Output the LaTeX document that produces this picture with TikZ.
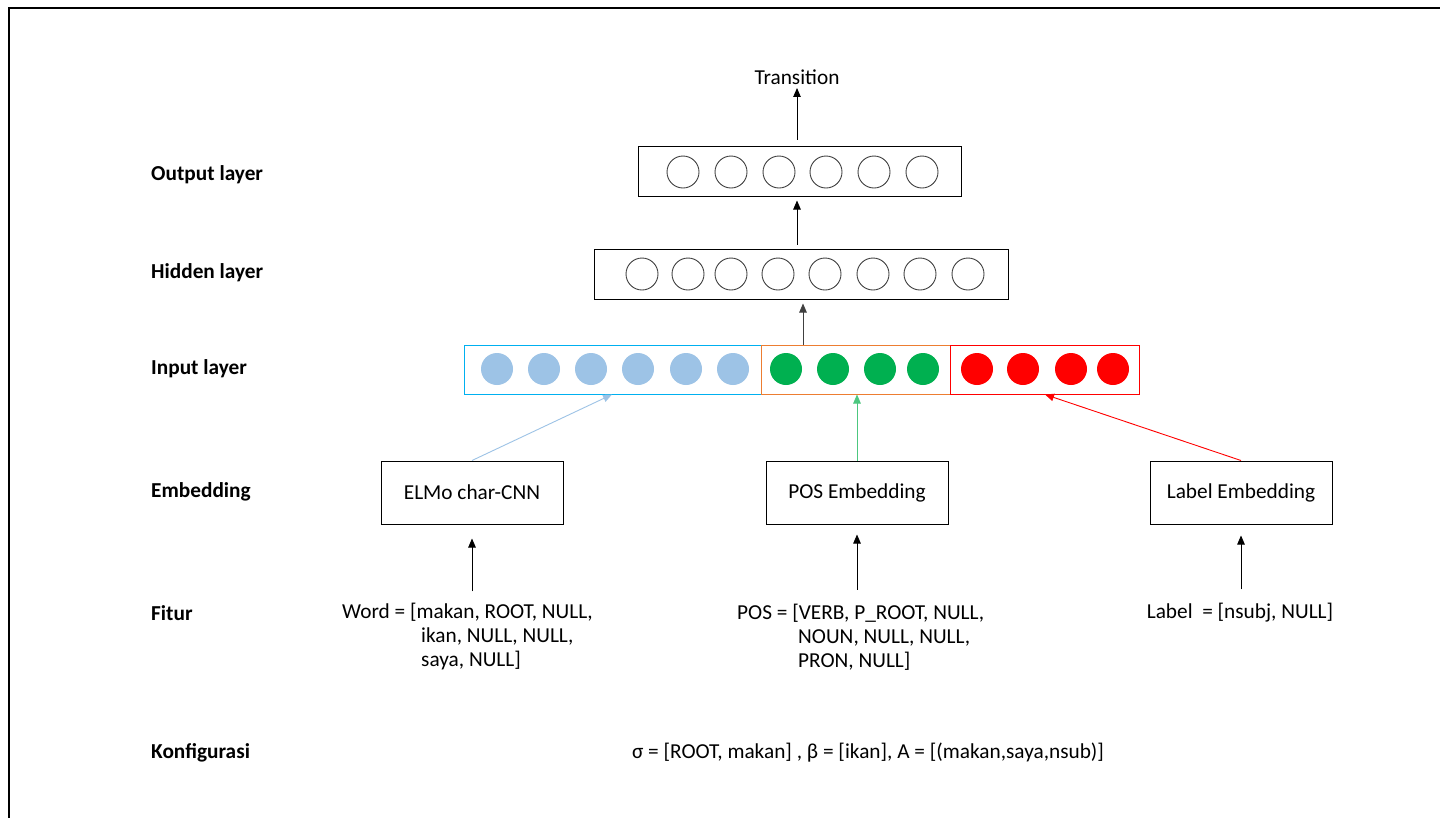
\documentclass[tikz,border=0pt]{standalone}
\usepackage{fontspec}
\setmainfont{Carlito}
\usetikzlibrary{arrows.meta,calc}
\definecolor{elmoblue}{HTML}{9DC3E6}
\definecolor{cyanline}{HTML}{00B0F0}
\definecolor{posgreen}{HTML}{00B050}
\definecolor{greenarrow}{HTML}{4CC77F}
\definecolor{orangeline}{HTML}{ED7D31}
\definecolor{labelred}{HTML}{FF0000}
\definecolor{unitgray}{HTML}{404040}
\begin{document}
\begin{tikzpicture}[x=1pt,y=-1pt,
  font=\fontsize{21.3}{24}\selectfont,
  tip/.style={-{Triangle[length=9pt,width=7.5pt]}},
  layerlabel/.style={anchor=west,inner sep=0pt,font=\fontsize{21.3}{24}\selectfont\bfseries},
  layerbox/.style={draw,line width=1pt,minimum height=50pt,inner sep=0pt},
  unit/.style={circle,draw=unitgray,line width=0.9pt,minimum size=32pt,inner sep=0pt},
  filled/.style={circle,minimum size=32pt,inner sep=0pt,fill=#1},
  embbox/.style={draw,line width=1pt,minimum width=182pt,minimum height=63pt,inner sep=0pt},
  feat/.style={align=left,inner sep=0pt}
]
\useasboundingbox (0,0) rectangle (1440,817);
\fill[white] (0,0) rectangle (1440,817);
% outer frame (only its top and left edges fall inside the page)
\draw[line width=2pt] (9,830) -- (9,8) -- (1450,8);

% row labels
\node[layerlabel] (lout) at (151,175) {Output layer};
\node[layerlabel] (lhid) at (151,273) {Hidden layer};
\node[layerlabel] (linp) at (151,369) {Input layer};
\node[layerlabel] (lemb) at (151,492) {Embedding};
\node[layerlabel] (lfit) at (151,613) {Fitur};
\node[layerlabel] (lkon) at (151,753) {Konfigurasi};

% output layer
\node[layerbox,minimum width=323pt] (outbox) at (799.5,171) {};
\foreach \i/\x in {1/683,2/731,3/779,4/826,5/874,6/922}
  \node[unit] (o\i) at (\x,172) {};
\node (trans) at (797,77) {Transition};

% hidden layer
\node[layerbox,minimum width=414pt] (hidbox) at (801,274) {};
\foreach \i/\x in {1/642,2/688,3/731,4/778,5/825,6/873,7/920,8/968}
  \node[unit] (h\i) at (\x,274) {};

% input layer: three concatenated embedding segments
\node[draw=cyanline,line width=1pt,minimum width=297pt,minimum height=49pt,inner sep=0pt] (inblue) at (612.5,369.5) {};
\node[draw=orangeline,line width=1pt,minimum width=189pt,minimum height=49pt,inner sep=0pt] (ingreen) at (855.5,369.5) {};
\node[draw=labelred,line width=1pt,minimum width=189pt,minimum height=49pt,inner sep=0pt] (inred) at (1044.5,369.5) {};
\foreach \i/\x in {1/497,2/544,3/591,4/638,5/686,6/733}
  \node[filled=elmoblue] (b\i) at (\x,369) {};
\foreach \i/\x in {1/786,2/833,3/880,4/923}
  \node[filled=posgreen] (g\i) at (\x,369) {};
\foreach \i/\x in {1/977,2/1023,3/1071,4/1113}
  \node[filled=labelred] (r\i) at (\x,369) {};

% embedding boxes
\node[embbox] (elmo) at (472,492.5) {ELMo char-CNN};
\node[embbox] (posemb) at (857,492.5) {POS Embedding};
\node[embbox] (labemb) at (1241,492.5) {Label Embedding};

% features
\node[feat,anchor=west] (word) at (342,637) {Word = [makan, ROOT, NULL,\\\hspace*{79pt}ikan, NULL, NULL,\\\hspace*{79pt}saya, NULL]};
\node[feat,anchor=west] (pos) at (737,637) {POS = [VERB, P\_ROOT, NULL,\\\hspace*{61pt}NOUN, NULL, NULL,\\\hspace*{61pt}PRON, NULL]};
\node[feat] (lab) at (1240,613) {Label\ \ = [nsubj, NULL]};

% configuration
\node (konf) at (868,753) {σ = [ROOT, makan] , β = [ikan], A = [(makan,saya,nsub)]};

% connectors
\draw[tip,line width=0.9pt] ($(outbox.north)+(-2.5,0)$) ++(0,-6) coordinate (tt) -- (tt |- trans.south);
\draw[tip,line width=0.9pt,shorten <=4pt,shorten >=4pt] ($(hidbox.north)+(-4,0)$) -- ($(outbox.south)+(-2.5,0)$);
\draw[tip,line width=0.9pt,draw=unitgray,fill=unitgray,shorten >=4pt] (ingreen.north -| 803,0) -- (hidbox.south -| 803,0);

\draw[tip,line width=0.9pt,elmoblue] (elmo.north) -- (inblue.south -| 612,0);
\draw[tip,line width=0.9pt,greenarrow] (posemb.north) -- (ingreen.south -| posemb.north);
\draw[tip,line width=0.9pt,labelred] (labemb.north) -- (inred.south -| 1045,0);

\draw[tip,line width=0.9pt,shorten <=12pt,shorten >=14pt] (elmo.south |- word.north) -- (elmo.south);
\draw[tip,line width=0.9pt,shorten <=14pt,shorten >=10pt] (posemb.south |- pos.north) -- (posemb.south);
\draw[tip,line width=0.9pt,shorten <=14pt,shorten >=11pt] (labemb.south |- lab.north) -- (labemb.south);
\end{tikzpicture}
\end{document}
